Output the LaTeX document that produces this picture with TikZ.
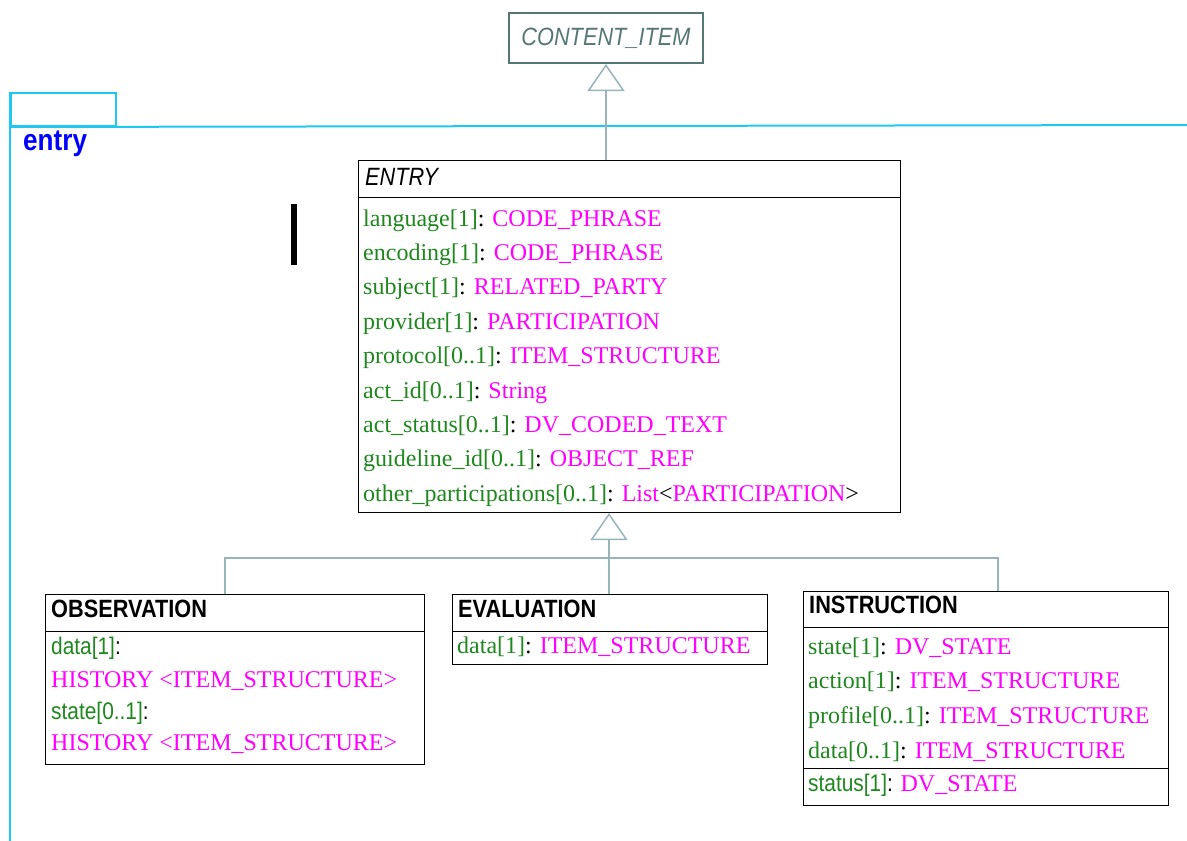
\documentclass[tikz,border=0pt]{standalone}
\usepackage{fontspec}
\setmainfont{Liberation Serif}
\newfontfamily\narrowsf[FakeStretch=0.87]{Liberation Sans}
\usetikzlibrary{positioning}
\usetikzlibrary{arrows.meta}

\definecolor{attrgreen}{RGB}{30,135,30}
\definecolor{typemag}{RGB}{255,0,255}
\definecolor{pkgcyan}{RGB}{30,200,240}
\definecolor{genline}{RGB}{150,180,186}
\definecolor{absgray}{RGB}{85,118,118}

\newcommand{\attr}[2]{\textcolor{attrgreen}{#1}: \textcolor{typemag}{#2}}

\tikzset{
  classbox/.style={draw, line width=1pt, anchor=north west, inner sep=0pt},
  title/.style={anchor=base west, inner sep=0pt, font=\narrowsf\fontsize{25}{30}\selectfont},
  row/.style={anchor=base west, inner sep=0pt, font=\fontsize{24}{28}\selectfont},
  sfrow/.style={anchor=base west, inner sep=0pt, font=\narrowsf\fontsize{24}{28}\selectfont},
  gen/.style={draw=genline, line width=1.5pt},
  gentip/.style={-{Triangle[open, length=27pt, width=37pt, line width=1.5pt]}},
}

\begin{document}
\begin{tikzpicture}[x=1pt, y=-1pt]
\useasboundingbox (0,0) rectangle (1187,841);

% package frame
\node[draw=pkgcyan, line width=2pt, anchor=north west, inner sep=0pt,
  minimum width=105pt, minimum height=33pt] (pkgtab) at (10,92) {};
\coordinate (pkgright) at (1187,125);
\coordinate (pkgbottom) at (10,841);
\draw[pkgcyan, line width=2pt] (pkgtab.south west) -- (pkgright);
\draw[pkgcyan, line width=2pt] (pkgtab.north west) -- (pkgbottom);
\node[anchor=base west, inner sep=0pt, text=blue,
  font=\narrowsf\fontsize{30}{34}\selectfont\bfseries] (pkgname) at (23,150) {entry};

% abstract parent
\node[draw=absgray, line width=2pt, anchor=north west, inner sep=0pt,
  minimum width=194pt, minimum height=50pt, text=absgray,
  font=\narrowsf\fontsize{25}{30}\selectfont\itshape] (citem) at (508,12) {CONTENT\_ITEM};

% ENTRY
\node[classbox, minimum width=542pt, minimum height=352pt] (entry) at (358,160) {};
\draw (entry.north west) ++(0,37) -- ++(542,0);
\node[title, font=\narrowsf\fontsize{25}{30}\selectfont\itshape] (entryt) at (365,185) {ENTRY};
\foreach \t [count=\i from 0] in {
  {\attr{language[1]}{CODE\_PHRASE}},
  {\attr{encoding[1]}{CODE\_PHRASE}},
  {\attr{subject[1]}{RELATED\_PARTY}},
  {\attr{provider[1]}{PARTICIPATION}},
  {\attr{protocol[0..1]}{ITEM\_STRUCTURE}},
  {\attr{act\_id[0..1]}{String}},
  {\attr{act\_status[0..1]}{DV\_CODED\_TEXT}},
  {\attr{guideline\_id[0..1]}{OBJECT\_REF}},
  {\attr{other\_participations[0..1]}{List}<\textcolor{typemag}{PARTICIPATION}>}}
  \node[row] (ea\i) at (363,{226+34.4*\i}) {\t};

% text cursor mark
\fill (291,204) rectangle (297,265);

% OBSERVATION
\node[classbox, minimum width=379pt, minimum height=170pt] (obs) at (45,594) {};
\draw (obs.north west) ++(0,37) -- ++(379,0);
\node[title, font=\narrowsf\fontsize{25}{30}\selectfont\bfseries] (obst) at (51,617) {OBSERVATION};
\node[sfrow, text=attrgreen] (oa0) at (51,654) {data[1]\textcolor{black}{:}};
\node[row, text=typemag] (oa1) at (51,687) {HISTORY <ITEM\_STRUCTURE>};
\node[sfrow, text=attrgreen] (oa2) at (51,719) {state[0..1]\textcolor{black}{:}};
\node[row, text=typemag] (oa3) at (51,750) {HISTORY <ITEM\_STRUCTURE>};

% EVALUATION
\node[classbox, minimum width=315pt, minimum height=70pt] (eval) at (452,594) {};
\draw (eval.north west) ++(0,37) -- ++(315,0);
\node[title, font=\narrowsf\fontsize{25}{30}\selectfont\bfseries] (evalt) at (458,617) {EVALUATION};
\node[row] (va0) at (457,653) {\attr{data[1]}{ITEM\_STRUCTURE}};

% INSTRUCTION
\node[classbox, minimum width=365pt, minimum height=214pt] (inst) at (803,591) {};
\draw (inst.north west) ++(0,36) -- ++(365,0);
\draw (inst.north west) ++(0,177) -- ++(365,0);
\node[title, font=\narrowsf\fontsize{25}{30}\selectfont\bfseries] (instt) at (809,613) {INSTRUCTION};
\foreach \t [count=\i from 0] in {
  {\attr{state[1]}{DV\_STATE}},
  {\attr{action[1]}{ITEM\_STRUCTURE}},
  {\attr{profile[0..1]}{ITEM\_STRUCTURE}},
  {\attr{data[0..1]}{ITEM\_STRUCTURE}}}
  \node[row] (ia\i) at (808,{654+34.7*\i}) {\t};
\node[sfrow] (ia4) at (808,791) {\textcolor{attrgreen}{status[1]}: \textcolor{typemag}{\rmfamily DV\_STATE}};

% generalisation
\draw[gen, gentip] (citem.south |- entry.north) -- (citem.south);
\coordinate (j1) at (225,558);
\coordinate (j2) at (609,558);
\coordinate (j3) at (998,558);
\draw[gen, gentip] (j2) -- (j2 |- entry.south);
\draw[gen] (j1 |- obs.north) -- (j1) -- (j3) -- (j3 |- inst.north);
\draw[gen] (j2 |- eval.north) -- (j2);

\end{tikzpicture}
\end{document}
